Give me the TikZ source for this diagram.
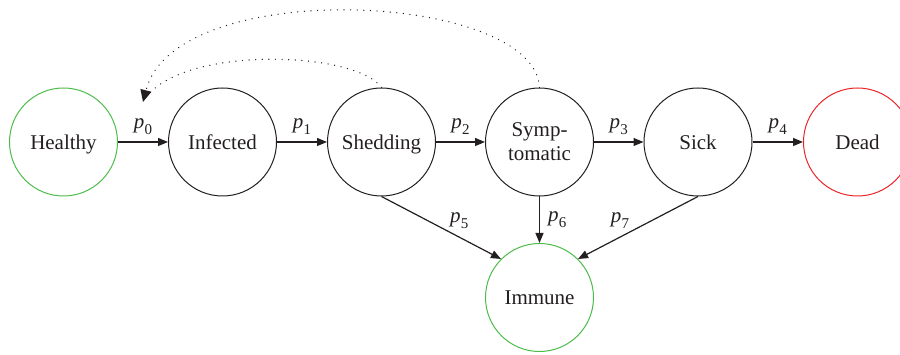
\documentclass[tikz,border=0pt]{standalone}
\usepackage{fontspec}
\setmainfont{Liberation Serif}
\usetikzlibrary{arrows.meta}
\definecolor{ink}{RGB}{35,31,32}
\definecolor{okgreen}{RGB}{78,188,76}
\definecolor{deadred}{RGB}{236,36,40}
\newcommand\plab[1]{\textit{p}\kern0.3pt\raisebox{-0.28em}{\fontsize{15}{15}\selectfont #1}}
\begin{document}
\begin{tikzpicture}[x=1pt,y=-1pt,
  state/.style={circle,draw=ink,line width=1pt,minimum size=108pt,inner sep=0pt,
    text=ink,font=\fontsize{21}{24}\selectfont,align=center,text depth=0pt},
  flow/.style={draw=ink,line width=1.2pt,-{Triangle[length=10pt,width=8pt]}},
  back/.style={draw=ink,line width=1.4pt,dash pattern=on 0.01pt off 6.6pt,line cap=round},
  backtip/.style={back,-{Triangle[length=12pt,width=11pt]}},
  lab/.style={inner sep=2pt,text=ink,font=\fontsize{21}{24}\selectfont}]
\useasboundingbox (0,0) rectangle (900,355);
\clip (0,0) rectangle (900,355);

\node[state,draw=okgreen] (healthy) at (63.5,142) {Healthy};
\node[state] (infected) at (222.5,142) {Infected};
\node[state] (shedding) at (381.5,142) {Shedding};
\node[state] (symp) at (539.5,142) {Symp-\\tomatic};
\node[state] (sick) at (698,142) {Sick};
\node[state,draw=deadred] (dead) at (857.5,142) {Dead};
\node[state,draw=okgreen] (immune) at (539.5,297.5) {Immune};

\draw[flow] (healthy) -- node[lab,midway,above=5pt]{\plab0} (infected);
\draw[flow] (infected) -- node[lab,midway,above=5pt]{\plab1} (shedding);
\draw[flow] (shedding) -- node[lab,midway,above=5pt]{\plab2} (symp);
\draw[flow] (symp) -- node[lab,midway,above=5pt]{\plab3} (sick);
\draw[flow] (sick) -- node[lab,midway,above=5pt]{\plab4} (dead);

\draw[flow] (shedding.south) -- node[lab,pos=0.65,above=6pt]{\plab5} (immune.north west);
\draw[flow] (symp) -- node[lab,midway,right=6pt]{\plab6} (immune);
\draw[flow] (sick.south) -- node[lab,pos=0.65,above=6pt]{\plab7} (immune.north east);

\coordinate (tip) at (143,102);
\draw[back] (shedding.north) .. controls (355,50) and (175,45) .. (tip);
\draw[backtip] (symp.north) .. controls (535,-8) and (175,-25) .. (tip);
\end{tikzpicture}
\end{document}
